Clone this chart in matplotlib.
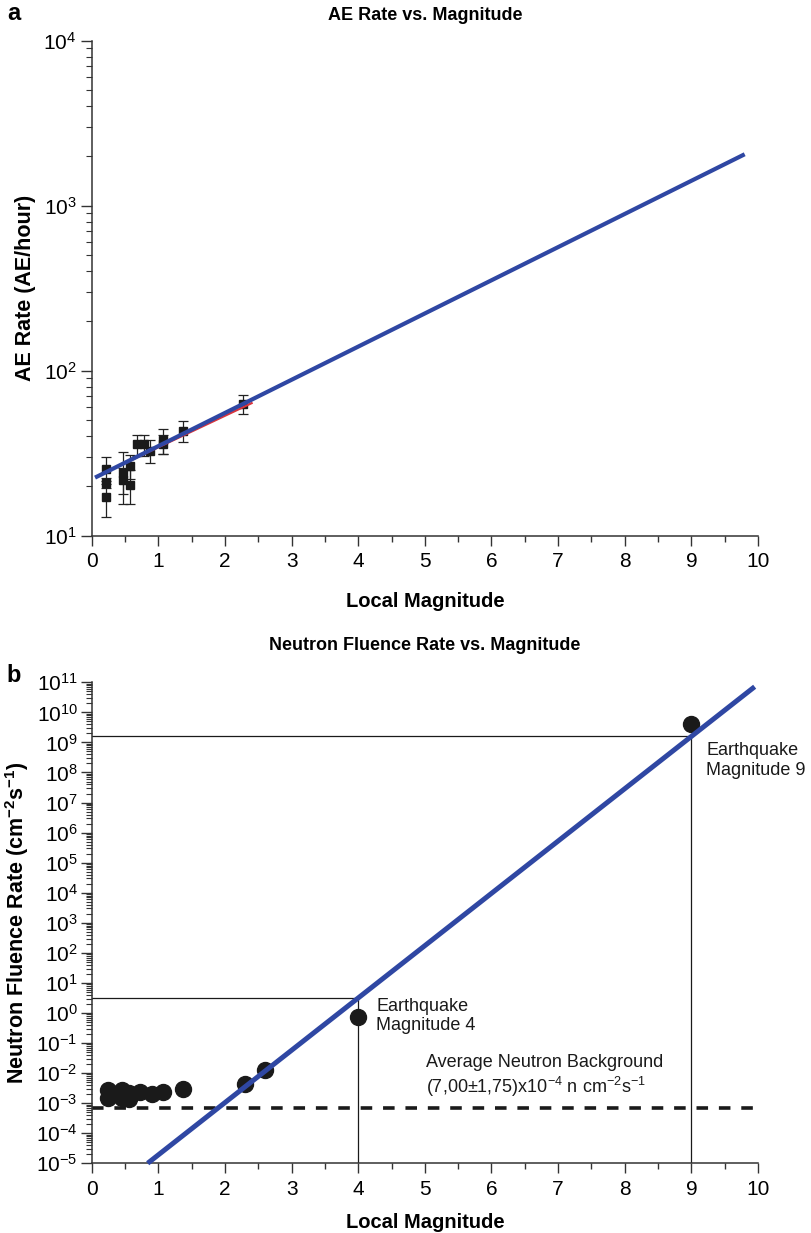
import numpy as np
import matplotlib
matplotlib.use("Agg")
import matplotlib.pyplot as plt
from matplotlib.ticker import (FixedLocator, LogLocator, MultipleLocator,
                               NullFormatter, LogFormatterMathtext)

plt.rcParams['font.family'] = ['Liberation Sans', 'DejaVu Sans']
plt.rcParams['mathtext.fontset'] = 'custom'
plt.rcParams['mathtext.rm'] = 'Liberation Sans'
plt.rcParams['mathtext.it'] = 'Liberation Sans:italic'
plt.rcParams['mathtext.bf'] = 'Liberation Sans:bold'
plt.rcParams['axes.unicode_minus'] = False

# ---- Panel a: acoustic emission rate vs. local magnitude ----
ae_mag = [0.22, 0.22, 0.22, 0.47, 0.47, 0.57, 0.57, 0.68, 0.78, 0.875, 1.075, 1.075, 1.375, 2.275]
ae_rate = [25.3, 21.0, 17.2, 23.9, 21.8, 26.4, 20.3, 35.8, 35.8, 32.7, 38.0, 36.0, 43.3, 62.8]
ae_err = [4.6, 1.5, 4.3, 8.4, 4.0, 4.4, 4.7, 5.2, 5.2, 5.3, 6.6, 4.6, 6.5, 8.0]

ae_fit_logA, ae_fit_slope = 1.342, 0.201      # log10(rate) = logA + slope * M
ae_fit_span = [0.05, 9.8]
ae_data_fit_logA, ae_data_fit_slope = 1.345, 0.191
ae_data_fit_span = [0.22, 2.4]

# ---- Panel b: neutron fluence rate vs. local magnitude ----
nf_mag = [0.24, 0.24, 0.46, 0.46, 0.56, 0.56, 0.73, 0.9, 1.07, 1.37, 2.3, 2.6, 4.0, 9.0]
nf_rate = [2.7e-3, 1.5e-3, 2.7e-3, 1.5e-3, 2.2e-3, 1.4e-3, 2.4e-3, 2.0e-3, 2.3e-3,
           2.9e-3, 4.5e-3, 1.3e-2, 0.75, 4.0e9]

nf_fit_logA, nf_fit_slope = -6.46, 1.74
nf_fit_span = [0.84, 9.95]
quake_mags = [4, 9]
background_mean = 7.00e-4
background_sd = 1.75e-4

BLUE = '#2F47A3'
RED = '#D9343C'
INK = '#1a1a1a'
AXC = '#333333'

fig = plt.figure(figsize=(8.11, 12.33), dpi=100)
W, H = 811, 1233


def px_axes(left, top, right, bottom):
    return fig.add_axes([left / W, 1 - bottom / H, (right - left) / W, (bottom - top) / H])


def style_axes(ax):
    for s in ('top', 'right'):
        ax.spines[s].set_visible(False)
    for s in ('left', 'bottom'):
        ax.spines[s].set_color(AXC)
        ax.spines[s].set_linewidth(1.1)
    ax.set_xlim(0, 10)
    ax.xaxis.set_major_locator(MultipleLocator(1))
    ax.xaxis.set_minor_locator(MultipleLocator(0.5))
    ax.tick_params(axis='both', which='major', direction='out', color=AXC, width=1.0)
    ax.tick_params(axis='x', which='major', length=7, pad=5, labelsize=15)
    ax.tick_params(axis='x', which='minor', length=4, color=AXC, width=1.0)
    ax.tick_params(axis='y', which='major', length=8, labelsize=15, pad=3)
    ax.tick_params(axis='y', which='minor', length=4, color=AXC, width=0.8)
    ax.set_xlabel('Local Magnitude', fontsize=14.5, fontweight='bold')


# Panel a
ax1 = px_axes(91.7, 40.7, 758, 535.7)
style_axes(ax1)
ax1.set_yscale('log')
ax1.set_ylim(10, 1e4)
ax1.yaxis.set_major_locator(FixedLocator([1e1, 1e2, 1e3, 1e4]))
ax1.yaxis.set_major_formatter(LogFormatterMathtext())
ax1.yaxis.set_minor_locator(LogLocator(base=10, subs=np.arange(2, 10), numticks=50))
ax1.yaxis.set_minor_formatter(NullFormatter())

ax1.errorbar(ae_mag, ae_rate, yerr=ae_err, fmt='s', ms=5.5, color=INK,
             ecolor='#222222', elinewidth=0.9, capsize=3.5, capthick=0.9, zorder=3)
xd = np.linspace(*ae_data_fit_span, 20)
ax1.plot(xd, 10 ** (ae_data_fit_logA + ae_data_fit_slope * xd), color=RED, lw=1.6, zorder=4)
xf = np.linspace(*ae_fit_span, 50)
ax1.plot(xf, 10 ** (ae_fit_logA + ae_fit_slope * xf), color=BLUE, lw=3.0,
         solid_capstyle='butt', zorder=5)
ax1.set_ylabel('AE Rate (AE/hour)', fontsize=15.5, fontweight='bold', labelpad=5)
ax1.xaxis.set_label_coords(0.5, -0.114)

# Panel b
ax2 = px_axes(91.7, 682.3, 758, 1163.3)
style_axes(ax2)
ax2.set_yscale('log')
ax2.set_ylim(1e-5, 1e11)
ax2.yaxis.set_major_locator(FixedLocator([10.0 ** k for k in range(-5, 12)]))
ax2.yaxis.set_major_formatter(LogFormatterMathtext())
ax2.yaxis.set_minor_locator(LogLocator(base=10, subs=np.arange(2, 10), numticks=200))
ax2.yaxis.set_minor_formatter(NullFormatter())
ax2.tick_params(axis='y', which='major', labelsize=15, pad=2)

# guide lines from each marked quake magnitude to the fitted line
for m in quake_mags:
    yv = 10 ** (nf_fit_logA + nf_fit_slope * m)
    ax2.plot([0, m], [yv, yv], color=INK, lw=0.9, zorder=2)
    ax2.plot([m, m], [1e-5, yv], color=INK, lw=0.9, zorder=2)

ax2.axhline(background_mean, xmin=0, xmax=1, color=INK, lw=2.6,
            dashes=(3.2, 3.0), zorder=2)
ax2.plot(nf_mag, nf_rate, 'o', ms=11.5, color=INK, zorder=3, clip_on=False)
xg = np.linspace(*nf_fit_span, 50)
ax2.plot(xg, 10 ** (nf_fit_logA + nf_fit_slope * xg), color=BLUE, lw=3.6,
         solid_capstyle='butt', zorder=4, clip_on=False)

ax2.text(4.27, 10 ** -0.1, 'Earthquake\nMagnitude 4', fontsize=13,
         va='center', ha='left', linespacing=1.2, color=INK)
ax2.text(9.22, 10 ** 8.39, 'Earthquake\nMagnitude 9', fontsize=13,
         va='center', ha='left', linespacing=1.2, color=INK)
ax2.text(5.02, 10 ** -2.12,
         'Average Neutron Background\n(7,00\u00b11,75)x10$^{-4}$ n cm$^{-2}$s$^{-1}$',
         fontsize=13, va='center', ha='left', linespacing=1.2, color=INK)
ax2.set_ylabel('Neutron Fluence Rate (cm$^{\\mathbf{-2}}$s$^{\\mathbf{-1}}$)',
               fontsize=15.5, fontweight='bold', labelpad=4)
ax2.xaxis.set_label_coords(0.5, -0.104)

# titles and panel letters
fig.text(424.9 / W, 1 - 15 / H, 'AE Rate vs. Magnitude', ha='center', va='center',
         fontsize=13, fontweight='bold')
fig.text(424.9 / W, 1 - 645 / H, 'Neutron Fluence Rate vs. Magnitude', ha='center',
         va='center', fontsize=13, fontweight='bold')
fig.text(14 / W, 1 - 13 / H, 'a', ha='center', va='center', fontsize=17, fontweight='bold')
fig.text(14 / W, 1 - 676 / H, 'b', ha='center', va='center', fontsize=17, fontweight='bold')

fig.savefig('out.png', dpi=100, facecolor='white')
